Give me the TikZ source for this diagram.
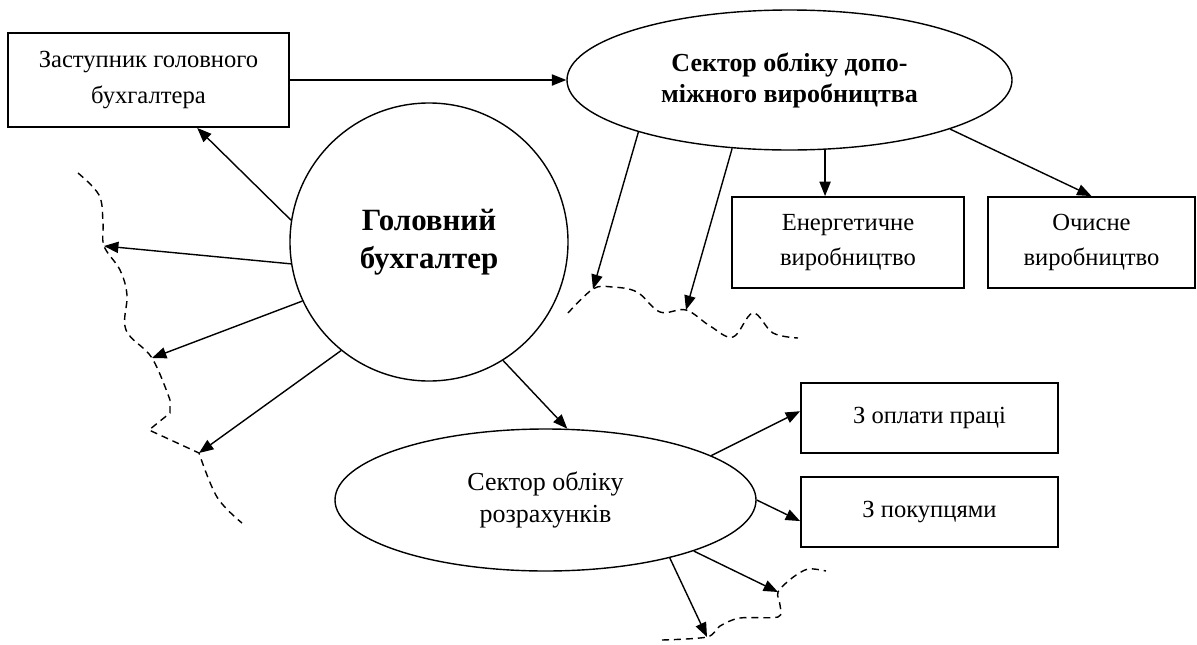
\documentclass[tikz,border=0pt]{standalone}
\usepackage{fontspec}
\setmainfont{Liberation Serif}
\usetikzlibrary{shapes, arrows.meta, positioning}

\begin{document}
\begin{tikzpicture}[x=0.25mm, y=-0.25mm,
        box/.style={draw, rectangle, line width=1.3pt, align=center, inner sep=0pt, font=\fontsize{17.5}{25.5}\selectfont},
        oval/.style={draw, ellipse, line width=1pt, align=center, inner sep=0pt},
        link/.style={line width=1pt, -{Triangle[length=3.6mm, width=2.8mm]}},
        wave/.style={line width=1pt, dash pattern=on 5pt off 3.5pt}]
        \useasboundingbox (0, 0) rectangle (1197, 644);

        \node [box, minimum width=70.25mm, minimum height=23.5mm] (Nzast) at (148.5, 80) {Заступник головного\\бухгалтера};
        \node [draw, circle, line width=1pt, minimum size=69.5mm, inner sep=0pt, align=center, font=\bfseries\fontsize{22}{27}\selectfont] (Nhol) at (429, 242) {Головний\\бухгалтер};
        \node [oval, minimum width=111.25mm, minimum height=35mm, font=\bfseries\fontsize{18.5}{22}\selectfont] (Ndop) at (789.5, 80) {Сектор обліку допо-\\міжного виробництва};
        \node [oval, minimum width=105.25mm, minimum height=35.5mm, font=\fontsize{18.5}{22.5}\selectfont] (Nrozr) at (545.5, 500) {Сектор обліку\\розрахунків};
        \node [box, minimum width=58mm, minimum height=22.75mm] (Nenerg) at (848, 242.5) {Енергетичне\\виробництво};
        \node [box, minimum width=51.75mm, minimum height=22.75mm] (Nochys) at (1091.5, 242.5) {Очисне\\виробництво};
        \node [box, minimum width=64.25mm, minimum height=17.5mm] (Noplata) at (929.5, 418) {З оплати праці};
        \node [box, minimum width=64.25mm, minimum height=17.5mm] (Npokup) at (929.5, 512) {З покупцями};

        % ends of the arrows on the dashed lines
        \coordinate (Wa) at (104, 246);
        \coordinate (Wb) at (152, 358);
        \coordinate (Wc) at (199, 453);
        \coordinate (Ta) at (593, 289);
        \coordinate (Tb) at (686, 310);
        \coordinate (Ba) at (707, 637);
        \coordinate (Bb) at (778, 592);

        \draw [wave] plot [smooth, tension=0.6] coordinates {(78, 173) (99, 195) (103, 222) (Wa) (120, 270) (127, 295) (126, 330) (Wb) (170, 400)}
            -- (170, 413) -- (149, 430) -- (Wc)
            -- plot [smooth, tension=0.6] coordinates {(Wc) (217, 497) (242, 523)};
        \draw [wave] plot [smooth, tension=0.6] coordinates {(568, 313) (Ta) (612, 287) (637, 292) (660, 312) (Tb) (710, 326) (733, 337) (753, 313) (773, 333) (798, 338)};
        \draw [wave] plot [smooth, tension=0.5] coordinates {(662, 640) (Ba) (720, 626) (740, 618) (778, 617) (780, 605) (Bb) (792, 578) (808, 569) (826, 571)};

        \draw [link] (Nzast) -- (Ndop);
        \draw [link] (Nhol.171) -- (Nzast);
        \draw [link] (Nhol.189) -- (Wa);
        \draw [link] (Nhol.205) -- (Wb);
        \draw [link] (Nhol.231) -- (Wc);
        \draw [link] (Nhol.302) -- (Nrozr.73);
        \draw [link] (Ndop.199) -- (Ta);
        \draw [link] (Ndop.230) -- (Tb);
        \draw [link] (Ndop.297) -- (Ndop.297 |- Nenerg.north);
        \draw [link] (Ndop.343) -- (Nochys.north);
        \draw [link] (Nrozr.15) -- (Noplata.177);
        \draw [link] (Nrozr.0) -- (Npokup.184);
        \draw [link] (Nrozr.341) -- (Bb);
        \draw [link] (Nrozr.335) -- (Ba);
\end{tikzpicture}
\end{document}
